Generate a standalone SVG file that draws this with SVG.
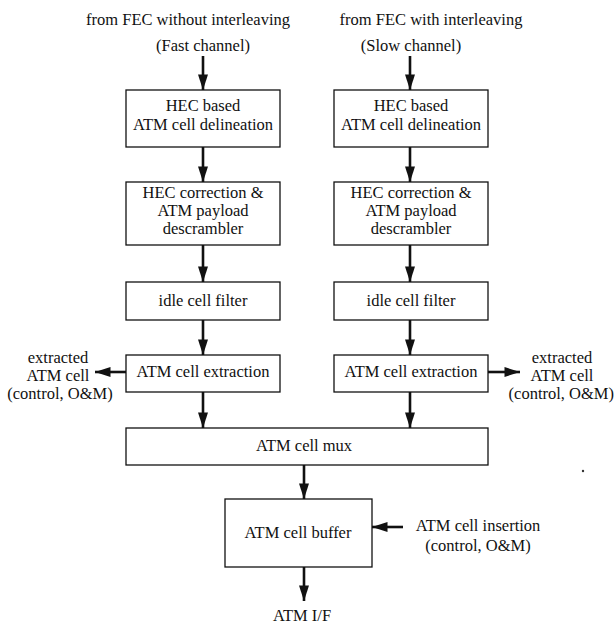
<svg xmlns="http://www.w3.org/2000/svg" width="615" height="626" viewBox="0 0 615 626">
<style>
  .box { fill: #fff; stroke: #111; stroke-width: 1.3; }
  .t { font-family: "Liberation Serif", "Times New Roman", serif; font-size: 16.5px; fill: #111; text-anchor: middle; }
  .te { font-family: "Liberation Serif", "Times New Roman", serif; font-size: 16.5px; fill: #111; text-anchor: end; }
  .arr { stroke: #111; stroke-width: 2.6; fill: none; marker-end: url(#ah); }
</style>
<defs>
  <marker id="ah" markerWidth="6" markerHeight="6" refX="5.5" refY="3" orient="auto" markerUnits="userSpaceOnUse" viewBox="0 0 6 6" overflow="visible">
    <path d="M-10,-2 L5.5,3 L-10,8 Z" fill="#111"/>
  </marker>
</defs>
<rect width="615" height="626" fill="#fff"/>

<g id="labels">
  <text class="t" x="188" y="25">from FEC without interleaving</text>
  <text class="t" x="203" y="51">(Fast channel)</text>
  <text class="t" x="431" y="25">from FEC with interleaving</text>
  <text class="t" x="411" y="51">(Slow channel)</text>
  <text class="t" x="58" y="363">extracted</text>
  <text class="t" x="58" y="381">ATM cell</text>
  <text class="t" x="60" y="399">(control, O&amp;M)</text>
  <text class="t" x="562" y="363">extracted</text>
  <text class="t" x="562" y="381">ATM cell</text>
  <text class="te" x="614" y="399">(control, O&amp;M)</text>
  <text class="t" x="478" y="531">ATM cell insertion</text>
  <text class="t" x="478" y="551">(control, O&amp;M)</text>
  <text class="t" x="302" y="621">ATM I/F</text>
</g>

<g id="connectors">
  <line class="arr" x1="203" y1="56" x2="203" y2="90"/>
  <line class="arr" x1="410" y1="56" x2="410" y2="90"/>
  <line class="arr" x1="203" y1="147" x2="203" y2="182"/>
  <line class="arr" x1="410" y1="147" x2="410" y2="182"/>
  <line class="arr" x1="203" y1="245" x2="203" y2="282"/>
  <line class="arr" x1="410" y1="245" x2="410" y2="282"/>
  <line class="arr" x1="203" y1="320" x2="203" y2="355"/>
  <line class="arr" x1="410" y1="320" x2="410" y2="355"/>
  <line class="arr" x1="203" y1="392" x2="203" y2="428"/>
  <line class="arr" x1="410" y1="392" x2="410" y2="428"/>
  <line class="arr" x1="126" y1="372" x2="95" y2="372"/>
  <line class="arr" x1="488" y1="372" x2="520" y2="372"/>
  <line class="arr" x1="304" y1="465" x2="304" y2="499"/>
  <line class="arr" x1="403" y1="527" x2="372" y2="527"/>
  <line class="arr" x1="304" y1="567" x2="304" y2="601"/>
</g>

<g id="hec-delin-fast">
  <rect class="box" x="126" y="90" width="154" height="57"/>
  <text class="t" x="203" y="111">HEC based</text>
  <text class="t" x="203" y="130">ATM cell delineation</text>
</g>
<g id="hec-delin-slow">
  <rect class="box" x="334" y="90" width="154" height="57"/>
  <text class="t" x="411" y="111">HEC based</text>
  <text class="t" x="411" y="130">ATM cell delineation</text>
</g>
<g id="hec-corr-fast">
  <rect class="box" x="126" y="182" width="154" height="63"/>
  <text class="t" x="203" y="198">HEC correction &amp;</text>
  <text class="t" x="203" y="216">ATM payload</text>
  <text class="t" x="203" y="234">descrambler</text>
</g>
<g id="hec-corr-slow">
  <rect class="box" x="334" y="182" width="154" height="63"/>
  <text class="t" x="411" y="198">HEC correction &amp;</text>
  <text class="t" x="411" y="216">ATM payload</text>
  <text class="t" x="411" y="234">descrambler</text>
</g>
<g id="idle-fast">
  <rect class="box" x="126" y="282" width="154" height="38"/>
  <text class="t" x="203" y="306">idle cell filter</text>
</g>
<g id="idle-slow">
  <rect class="box" x="334" y="282" width="154" height="38"/>
  <text class="t" x="411" y="306">idle cell filter</text>
</g>
<g id="extract-fast">
  <rect class="box" x="126" y="355" width="154" height="37"/>
  <text class="t" x="203" y="377">ATM cell extraction</text>
</g>
<g id="extract-slow">
  <rect class="box" x="334" y="355" width="154" height="37"/>
  <text class="t" x="411" y="377">ATM cell extraction</text>
</g>
<g id="mux">
  <rect class="box" x="126" y="428" width="362" height="37"/>
  <text class="t" x="304" y="451">ATM cell mux</text>
</g>
<g id="buffer">
  <rect class="box" x="225" y="499" width="147" height="68"/>
  <text class="t" x="298" y="538">ATM cell buffer</text>
</g>
<circle cx="583" cy="471" r="1.2" fill="#333"/>
</svg>
